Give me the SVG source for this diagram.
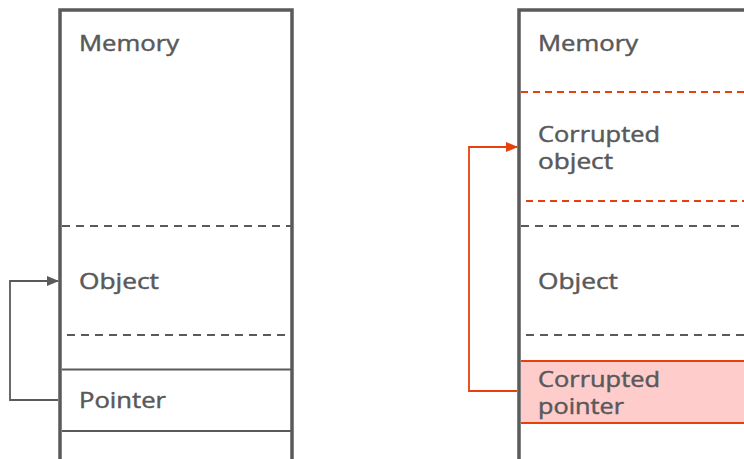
<svg xmlns="http://www.w3.org/2000/svg" width="744" height="459" viewBox="0 0 744 459">
<defs>
<style>
.t{font-family:"Open Sans","DejaVu Sans","Liberation Sans",sans-serif;font-size:21px;font-weight:400;fill:#595959;stroke:#595959;stroke-width:0.45}
.box{fill:none;stroke:#5a5a5a;stroke-width:3.5}
.sol{stroke:#5a5a5a;stroke-width:1.8;fill:none}
.dg{stroke:#5a5a5a;stroke-width:1.8;stroke-dasharray:8 6;fill:none}
.dr{stroke:#e8400c;stroke-width:1.8;stroke-dasharray:7 5;fill:none}
.cg{stroke:#5a5a5a;stroke-width:1.8;fill:none}
.cr{stroke:#e8400c;stroke-width:1.8;fill:none}
</style>
<marker id="ag" markerWidth="12" markerHeight="10" refX="11" refY="5" orient="auto" markerUnits="userSpaceOnUse"><path d="M0,0 L12,5 L0,10 Z" fill="#5a5a5a"/></marker>
<marker id="ar" markerWidth="12" markerHeight="10" refX="11" refY="5" orient="auto" markerUnits="userSpaceOnUse"><path d="M0,0 L12,5 L0,10 Z" fill="#e8400c"/></marker>
</defs>
<rect width="744" height="459" fill="#ffffff"/>
<g id="left-memory">
<path class="box" d="M60,470 V10 H292 V470"/>
<text class="t" x="79" y="51" textLength="100" lengthAdjust="spacingAndGlyphs">Memory</text>
</g>
<g id="left-object">
<line class="dg" x1="62" y1="226" x2="292" y2="226"/>
<line class="dg" x1="67" y1="335" x2="286" y2="335"/>
<text class="t" x="79" y="289" textLength="80" lengthAdjust="spacingAndGlyphs">Object</text>
</g>
<g id="left-pointer">
<line class="sol" x1="62" y1="369.5" x2="292" y2="369.5"/>
<line class="sol" x1="62" y1="431" x2="292" y2="431"/>
<text class="t" x="79" y="408" textLength="87" lengthAdjust="spacingAndGlyphs">Pointer</text>
</g>
<g id="right-memory">
<path class="box" d="M519,470 V10 H760"/>
<text class="t" x="538" y="51" textLength="100" lengthAdjust="spacingAndGlyphs">Memory</text>
</g>
<g id="right-corrupted-object">
<line class="dr" x1="521" y1="92" x2="744" y2="92"/>
<line class="dr" x1="526" y1="201" x2="744" y2="201"/>
<text class="t" x="538" y="142" textLength="122" lengthAdjust="spacingAndGlyphs">Corrupted</text>
<text class="t" x="538" y="169" textLength="75" lengthAdjust="spacingAndGlyphs">object</text>
</g>
<g id="right-object">
<line class="dg" x1="521" y1="226" x2="744" y2="226"/>
<line class="dg" x1="526" y1="335" x2="744" y2="335"/>
<text class="t" x="538" y="289" textLength="80" lengthAdjust="spacingAndGlyphs">Object</text>
</g>
<g id="right-corrupted-pointer">
<rect x="521" y="361" width="230" height="62" fill="#ffcccc" stroke="none"/>
<line class="cr" x1="521" y1="361" x2="744" y2="361" stroke-width="2.2"/>
<line class="cr" x1="521" y1="423" x2="744" y2="423" stroke-width="2.2"/>
<text class="t" x="538" y="387" textLength="122" lengthAdjust="spacingAndGlyphs">Corrupted</text>
<text class="t" x="538" y="414" textLength="86" lengthAdjust="spacingAndGlyphs">pointer</text>
</g>
<g id="connectors">
<path class="cg" d="M58,400 H10 V281 H58" marker-end="url(#ag)"/>
<path class="cr" d="M517,391 H469 V147 H517" marker-end="url(#ar)"/>
</g>
</svg>
